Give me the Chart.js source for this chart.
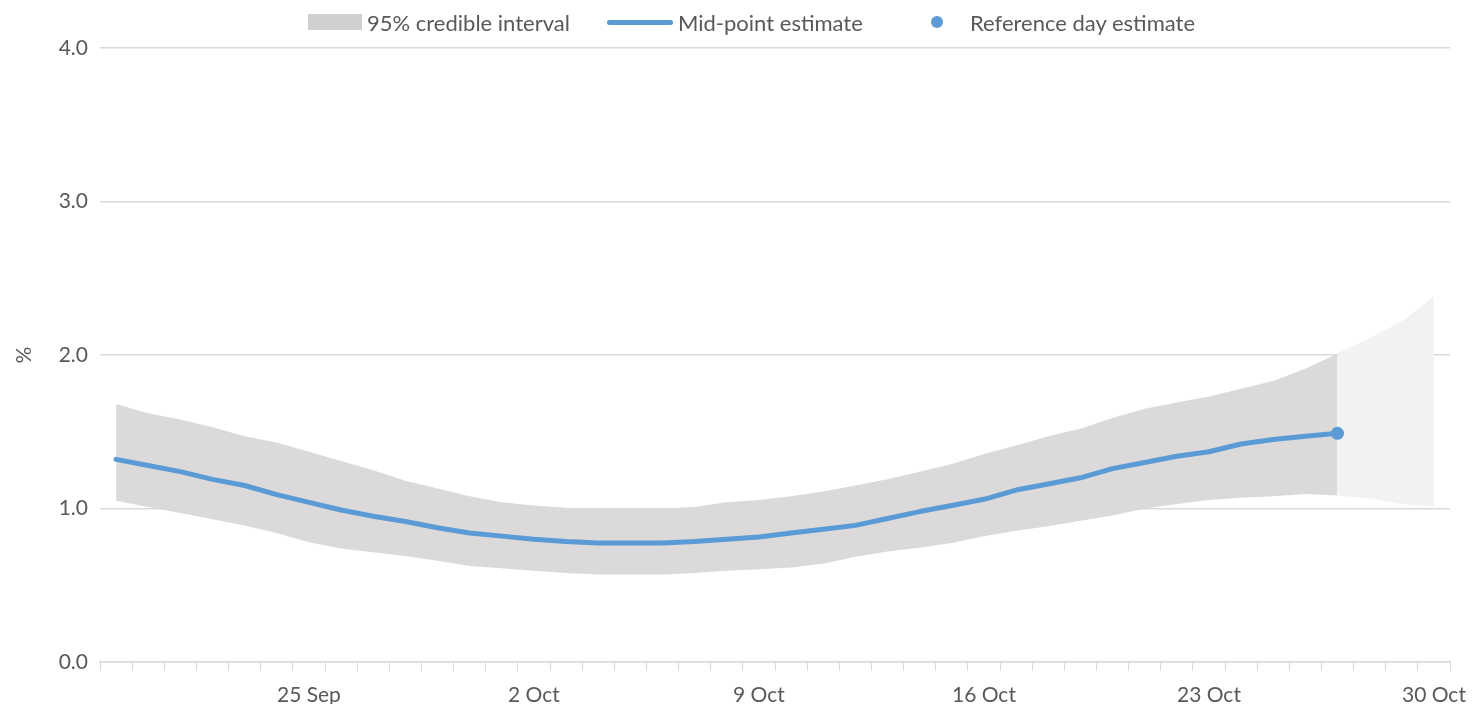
<!DOCTYPE html>
<html>
<head>
<meta charset="utf-8">
<script src="https://cdn.jsdelivr.net/npm/chart.js@4.4.1/dist/chart.umd.min.js"></script>
<style>
  body { margin: 0; background: #fff; font-family: Lato, 'Open Sans', sans-serif; }
  #wrap { position: relative; width: 1472px; height: 704px; }
  #legend { position: absolute; top: 8px; left: 0; width: 1472px; height: 28px; font-size: 22px; color: #595959; }
  .item { position: absolute; top: 0; display: flex; align-items: center; height: 28px; white-space: nowrap; }
  .swatch-rect { width: 54px; height: 16px; background: #d0cece; margin-right: 5px; }
  .swatch-line { width: 66px; height: 5px; background: #5b9bd5; border-radius: 3px; margin-right: 5px; }
  .swatch-dot { width: 12px; height: 12px; border-radius: 50%; background: #5b9bd5; margin-right: 27px; margin-left: 26px; }
</style>
</head>
<body>
<div id="wrap">
  <canvas id="chart"></canvas>
  <div id="legend">
    <div class="item" style="left:308px"><span class="swatch-rect"></span>95% credible interval</div>
    <div class="item" style="left:607px"><span class="swatch-line"></span>Mid-point estimate</div>
    <div class="item" style="left:905px"><span class="swatch-dot"></span>Reference day estimate</div>
  </div>
</div>
<script>
// Days 19 Sep .. 30 Oct
const dayLabels = [
    '19 Sep', '20 Sep', '21 Sep', '22 Sep', '23 Sep', '24 Sep', '25 Sep', '26 Sep', '27 Sep', '28 Sep', '29 Sep', '30 Sep',
    '1 Oct', '2 Oct', '3 Oct', '4 Oct', '5 Oct', '6 Oct', '7 Oct', '8 Oct', '9 Oct', '10 Oct', '11 Oct', '12 Oct',
    '13 Oct', '14 Oct', '15 Oct', '16 Oct', '17 Oct', '18 Oct', '19 Oct', '20 Oct', '21 Oct', '22 Oct', '23 Oct',
    '24 Oct', '25 Oct', '26 Oct', '27 Oct', '28 Oct', '29 Oct', '30 Oct'
];
const shownTicks = ['25 Sep', '2 Oct', '9 Oct', '16 Oct', '23 Oct', '30 Oct'];

const midpoint = [
    1.32, 1.28, 1.24, 1.19, 1.15, 1.09, 1.04, 0.99, 0.95, 0.915, 0.875, 0.84,
    0.82, 0.80, 0.785, 0.775, 0.775, 0.775, 0.785, 0.80, 0.815, 0.84, 0.865, 0.89,
    0.935, 0.98, 1.02, 1.06, 1.12, 1.16, 1.20, 1.26, 1.30, 1.34, 1.37,
    1.42, 1.45, 1.47, 1.49, null, null, null
];
const upper95 = [
    1.68, 1.62, 1.58, 1.53, 1.47, 1.43, 1.37, 1.31, 1.25, 1.18, 1.13, 1.08,
    1.04, 1.02, 1.005, 1.0, 1.0, 1.0, 1.01, 1.04, 1.055, 1.08, 1.11, 1.15,
    1.19, 1.24, 1.29, 1.355, 1.41, 1.47, 1.52, 1.59, 1.65, 1.69, 1.73,
    1.78, 1.83, 1.91, 2.01, null, null, null
];
const lower95 = [
    1.05, 1.01, 0.97, 0.93, 0.89, 0.84, 0.78, 0.74, 0.715, 0.69, 0.66, 0.625,
    0.61, 0.595, 0.58, 0.57, 0.57, 0.57, 0.58, 0.595, 0.605, 0.615, 0.64, 0.685,
    0.72, 0.745, 0.775, 0.82, 0.855, 0.885, 0.92, 0.955, 1.0, 1.03, 1.055,
    1.07, 1.08, 1.095, 1.085, null, null, null
];
// projection beyond the reference day
const upperProj = [
    null, null, null, null, null, null, null, null, null, null, null, null,
    null, null, null, null, null, null, null, null, null, null, null, null,
    null, null, null, null, null, null, null, null, null, null, null,
    null, null, null, 2.01, 2.11, 2.22, 2.38
];
const lowerProj = [
    null, null, null, null, null, null, null, null, null, null, null, null,
    null, null, null, null, null, null, null, null, null, null, null, null,
    null, null, null, null, null, null, null, null, null, null, null,
    null, null, null, 1.085, 1.065, 1.03, 1.015
];
const referenceDay = dayLabels.map((d, i) => (i === 38 ? midpoint[38] : null));

const textColor = '#595959';
const gridColor = '#d9d9d9';
Chart.defaults.font.family = 'Lato, "Open Sans", sans-serif';
Chart.defaults.font.size = 21;
Chart.defaults.color = textColor;

const bandStyle = { borderColor: 'transparent', borderWidth: 0, pointRadius: 0, pointHoverRadius: 0, tension: 0 };

new Chart(document.getElementById('chart'), {
    type: 'line',
    data: {
        labels: dayLabels,
        datasets: [
            {
                label: 'Reference day estimate',
                data: referenceDay,
                showLine: false,
                pointRadius: 6.5,
                pointBackgroundColor: '#5b9bd5',
                pointBorderWidth: 0,
                fill: false
            },
            {
                label: 'Mid-point estimate',
                data: midpoint,
                borderColor: '#5b9bd5',
                borderWidth: 5,
                pointRadius: 0,
                borderCapStyle: 'round',
                borderJoinStyle: 'round',
                tension: 0,
                fill: false
            },
            { label: 'lower', data: lower95, ...bandStyle, fill: false },
            { label: '95% credible interval', data: upper95, ...bandStyle, fill: '-1', backgroundColor: '#dbd9da' },
            { label: 'lowerProj', data: lowerProj, ...bandStyle, fill: false },
            { label: 'upperProj', data: upperProj, ...bandStyle, fill: '-1', backgroundColor: '#f2f2f2' }
        ]
    },
    options: {
        responsive: true,
        maintainAspectRatio: false,
        animation: false,
        layout: { padding: { top: 48, right: 22, bottom: 0, left: 0 } },
        scales: {
            x: {
                offset: true,
                grid: {
                    offset: true,
                    drawOnChartArea: false,
                    drawTicks: true,
                    tickLength: 9,
                    color: gridColor
                },
                border: { color: gridColor, width: 1.5 },
                ticks: {
                    autoSkip: false,
                    maxRotation: 0,
                    padding: 12,
                    callback: function (value) {
                        const lbl = dayLabels[value];
                        return shownTicks.includes(lbl) ? lbl : '';
                    }
                },
                afterFit: function (scale) {
                    scale.height = 42;
                    scale.paddingLeft = 0;
                    scale.paddingRight = 0;
                }
            },
            y: {
                min: 0,
                max: 4,
                grid: { color: gridColor, lineWidth: 1.5, drawTicks: false },
                border: { display: false },
                ticks: {
                    stepSize: 1,
                    padding: 12,
                    callback: function (value) {
                        return value.toFixed(1);
                    }
                },
                title: { display: true, text: '%', padding: { top: 12, bottom: 0 } },
                afterFit: function (scale) {
                    scale.width = 100;
                    scale.paddingTop = 0;
                    scale.paddingBottom = 0;
                }
            }
        },
        plugins: {
            legend: { display: false },
            tooltip: { enabled: false }
        }
    }
});
</script>
</body>
</html>
